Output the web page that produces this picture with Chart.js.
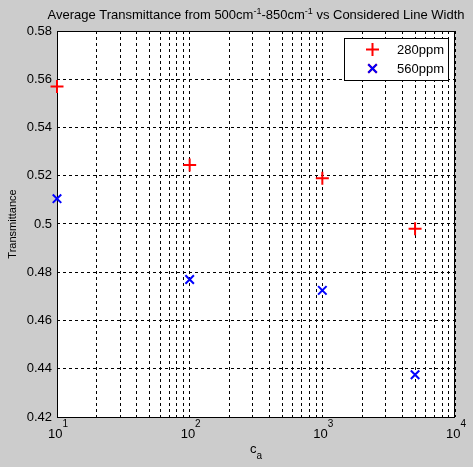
<!DOCTYPE html>
<html>
<head>
<meta charset="utf-8">
<script src="https://cdn.jsdelivr.net/npm/chart.js@4/dist/chart.umd.min.js"></script>
<style>
  html, body { margin: 0; padding: 0; background: #cccccc; }
  #wrap { width: 473px; height: 467px; }
  canvas { display: block; }
</style>
</head>
<body>
<div id="wrap"><canvas id="c" width="473" height="467"></canvas></div>
<script>
// === data ===
const lineWidths = [10, 100, 1000, 5000];
const trans280 = [0.557, 0.5245, 0.519, 0.498];
const trans560 = [0.5105, 0.477, 0.4725, 0.4375];
const seriesNames = ['280ppm', '560ppm'];

const xTickValues = [10, 100, 1000, 10000];
const xTickExps = ['1', '2', '3', '4'];
const yTickValues = [0.42, 0.44, 0.46, 0.48, 0.5, 0.52, 0.54, 0.56, 0.58];
const yTickLabels = ['0.42', '0.44', '0.46', '0.48', '0.5', '0.52', '0.54', '0.56', '0.58'];

const FONT = '"Liberation Sans", Arial, sans-serif';

// grid lines for log axis: 1..9 per decade
function logGrid() {
  const out = [];
  for (let d = 0; d < xTickValues.length - 1; d++) {
    for (let k = 1; k <= 9; k++) out.push(xTickValues[d] * k);
  }
  out.push(xTickValues[xTickValues.length - 1]);
  return out;
}

// draw text made of pieces, some raised or lowered
function drawRich(ctx, parts, cx, y) {
  let w = 0;
  parts.forEach(p => {
    ctx.font = p.size + 'px ' + FONT;
    p.w = ctx.measureText(p.t).width;
    w += p.w;
  });
  let x = cx - w / 2;
  ctx.textAlign = 'left';
  ctx.textBaseline = 'alphabetic';
  parts.forEach(p => {
    ctx.font = p.size + 'px ' + FONT;
    ctx.fillText(p.t, x, y - (p.rise || 0));
    x += p.w;
  });
}

const matlabLook = {
  id: 'matlabLook',
  beforeDraw(chart) {
    const ctx = chart.ctx;
    const a = chart.chartArea;
    ctx.save();
    ctx.fillStyle = '#cccccc';
    ctx.fillRect(0, 0, chart.width, chart.height);
    ctx.fillStyle = '#ffffff';
    ctx.fillRect(a.left, a.top, a.right - a.left, a.bottom - a.top);
    ctx.restore();
  },
  beforeDatasetsDraw(chart) {
    const ctx = chart.ctx;
    const a = chart.chartArea;
    ctx.save();
    ctx.strokeStyle = '#000';
    ctx.lineWidth = 1;
    ctx.strokeRect(Math.round(a.left) + 0.5, Math.round(a.top) + 0.5,
      Math.round(a.right - a.left) - 1, Math.round(a.bottom - a.top));
    ctx.restore();
  },
  afterDatasetsDraw(chart) {
    const ctx = chart.ctx;
    const a = chart.chartArea;
    const xs = chart.scales.x;
    const cx = (a.left + a.right) / 2;
    ctx.save();
    ctx.fillStyle = '#000';

    // title
    drawRich(ctx, [
      { t: 'Average Transmittance from 500cm', size: 13 },
      { t: '-1', size: 9, rise: 5 },
      { t: '-850cm', size: 13 },
      { t: '-1', size: 9, rise: 5 },
      { t: ' vs Considered Line Width', size: 13 }
    ], cx, 19);

    // x tick labels 10^n
    xTickValues.forEach((v, i) => {
      const px = xs.getPixelForValue(v);
      drawRich(ctx, [
        { t: '10', size: 13 },
        { t: xTickExps[i], size: 10, rise: 11 }
      ], px + 1, 438);
    });

    // x label c_a
    drawRich(ctx, [
      { t: 'c', size: 13 },
      { t: 'a', size: 10, rise: -6 }
    ], cx, 453);

    // legend box
    const lx = 344, ly = 38, lw = 104, lh = 42;
    ctx.fillStyle = '#fff';
    ctx.fillRect(lx, ly, lw, lh);
    ctx.strokeStyle = '#000';
    ctx.lineWidth = 1;
    ctx.strokeRect(lx + 0.5, ly + 0.5, lw, lh);
    chart.data.datasets.forEach((ds, i) => {
      const y = 49.5 + i * 19;
      Chart.helpers.drawPoint(ctx, {
        pointStyle: ds.pointStyle,
        radius: ds.pointRadius,
        borderWidth: ds.pointBorderWidth,
        rotation: 0
      }, 372.5, y);
      ctx.strokeStyle = ds.pointBorderColor;
      ctx.lineWidth = ds.pointBorderWidth;
      ctx.stroke();
      ctx.fillStyle = '#000';
      ctx.font = '13px ' + FONT;
      ctx.textAlign = 'left';
      ctx.textBaseline = 'middle';
      ctx.fillText(ds.label, 397, y + 0.5);
    });
    ctx.restore();
  }
};

function makeSet(label, data, style, color, r) {
  return {
    label,
    data: lineWidths.map((x, i) => ({ x, y: data[i] })),
    pointStyle: style,
    pointRadius: r,
    pointHoverRadius: r,
    pointBorderWidth: 2,
    pointBorderColor: color,
    pointBackgroundColor: color,
    showLine: false,
    clip: false
  };
}

new Chart(document.getElementById('c'), {
  type: 'scatter',
  data: {
    datasets: [
      makeSet(seriesNames[0], trans280, 'cross', '#ff0000', 6.5),
      makeSet(seriesNames[1], trans560, 'crossRot', '#0000ff', 6)
    ]
  },
  options: {
    responsive: false,
    devicePixelRatio: 1,
    animation: false,
    layout: { padding: { top: 31, right: 18, left: 0, bottom: 0 } },
    plugins: { legend: { display: false }, tooltip: { enabled: false } },
    scales: {
      x: {
        type: 'logarithmic',
        min: 10,
        max: 10000,
        afterBuildTicks: s => { s.ticks = logGrid().map(v => ({ value: v })); },
        afterFit: s => { s.height = 50; },
        ticks: { display: false },
        grid: { color: '#000', lineWidth: 1, drawTicks: false },
        border: { display: false, dash: [3, 3] }
      },
      y: {
        min: 0.42,
        max: 0.58,
        afterBuildTicks: s => { s.ticks = yTickValues.map(v => ({ value: v })); },
        afterFit: s => { s.width = 57; },
        ticks: {
          padding: 5,
          color: '#000',
          font: { family: FONT, size: 13 },
          callback: (v, i) => yTickLabels[i]
        },
        title: {
          display: true,
          text: 'Transmittance',
          color: '#000',
          font: { family: FONT, size: 11 },
          padding: { top: 6, bottom: 0 }
        },
        grid: { color: '#000', lineWidth: 1, drawTicks: false },
        border: { display: false, dash: [3, 3] }
      }
    }
  },
  plugins: [matlabLook]
});
</script>
</body>
</html>
